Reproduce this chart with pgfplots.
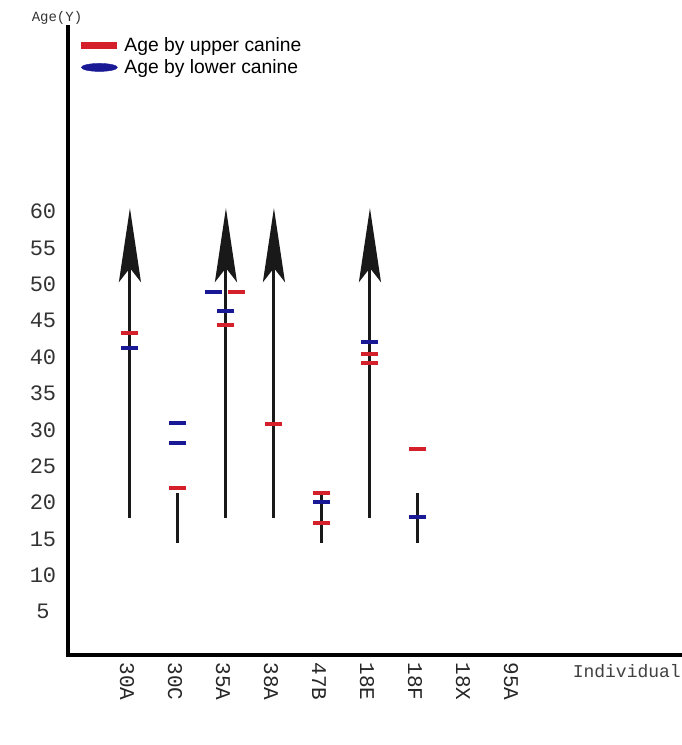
\documentclass[border=0pt]{standalone}
\usepackage{pgfplots}
\pgfplotsset{compat=1.18}
\usepackage{fontspec}
\setmainfont{Liberation Sans}
\newfontfamily\mono{Liberation Mono}
\usetikzlibrary{arrows.meta}
\definecolor{upred}{RGB}{212,32,42}
\definecolor{lowblue}{RGB}{25,25,150}
\definecolor{shaft}{RGB}{25,25,25}
\begin{document}
\begin{tikzpicture}
\path[use as bounding box] (-68pt,-90pt) rectangle (613pt,655pt);
\begin{axis}[
  at={(0,0)}, anchor=south west,
  scale only axis, width=613pt, height=628pt,
  xmin=-0.29, xmax=12.48, ymin=-0.96, ymax=85.4,
  clip=false,
  axis x line=bottom, axis y line=left,
  axis line style={-, line width=4pt, black, line cap=rect},
  major tick length=0pt,
  xtick={1,...,9},
  xticklabels={30A,30C,35A,38A,47B,18E,18F,18X,95A},
  xticklabel style={font=\mono\fontsize{21}{21}\selectfont, rotate=-90, anchor=west, xshift=4pt, yshift=-3pt, text=black!85},
  ytick={5,10,...,60},
  yticklabel style={font=\mono\fontsize{22}{22}\selectfont, anchor=center, xshift=-25pt, text=black!80},
  /pgf/number format/assume math mode=true,
  legend style={at={(axis description cs:0,1)}, anchor=north west, xshift=12pt, yshift=-7pt,
    draw=none, fill=none, font=\fontsize{19.3}{21}\selectfont, row sep=3pt, inner sep=1pt},
  legend cell align=left,
]
\addlegendimage{legend image code/.code={\fill[upred] (0pt,-2.8pt) rectangle (35pt,2.8pt); \path[draw=none,fill=none] (0pt,0pt) (41pt,0pt);}}
\addlegendentry{Age by upper canine}
\addlegendimage{legend image code/.code={\fill[lowblue] (18pt,0pt) ellipse (18pt and 4pt); \path[draw=none,fill=none] (0pt,0pt) (41pt,0pt);}}
\addlegendentry{Age by lower canine}

% open-ended ranges (arrows)
\addplot[draw=shaft, line width=3pt, -{Stealth[length=74pt,width=22pt,inset=14pt]}, forget plot] coordinates {(1,17.9) (1,60.5)};
\addplot[draw=shaft, line width=3pt, -{Stealth[length=74pt,width=22pt,inset=14pt]}, forget plot] coordinates {(3,17.9) (3,60.5)};
\addplot[draw=shaft, line width=3pt, -{Stealth[length=74pt,width=22pt,inset=14pt]}, forget plot] coordinates {(4,17.9) (4,60.5)};
\addplot[draw=shaft, line width=3pt, -{Stealth[length=74pt,width=22pt,inset=14pt]}, forget plot] coordinates {(6,17.9) (6,60.5)};
% closed ranges
\addplot[draw=shaft, line width=3pt, forget plot] coordinates {(2,14.5) (2,21.3)};
\addplot[draw=shaft, line width=3pt, forget plot] coordinates {(5,14.5) (5,21.3)};
\addplot[draw=shaft, line width=3pt, forget plot] coordinates {(7,14.5) (7,21.3)};

% age by upper canine
\addplot[only marks, mark=-, mark size=8.5pt, mark options={line width=4pt, draw=upred}, forget plot] coordinates {
(1,43.3) (2,22.0) (3.22,49.0) (3,44.4) (4,30.8) (5,21.3) (5,17.2) (6,40.4) (6,39.2) (7,27.4)};
% age by lower canine
\addplot[only marks, mark=-, mark size=8.5pt, mark options={line width=4pt, draw=lowblue}, forget plot] coordinates {
(1,41.3) (2,31.0) (2,28.2) (2.75,49.0) (3,46.3) (5,20.1) (6,42.1) (7,18.0)};

\node[font=\mono\fontsize{18}{18}\selectfont, text=black!75, anchor=north east, inner sep=0pt] at ([yshift=-9pt]rel axis cs:1,0) {Individual};
\node[font=\mono\fontsize{14}{14}\selectfont, text=black!80, anchor=center, inner sep=0pt] at ([xshift=-11pt,yshift=9pt]rel axis cs:0,1) {Age(Y)};
\end{axis}
\end{tikzpicture}
\end{document}
